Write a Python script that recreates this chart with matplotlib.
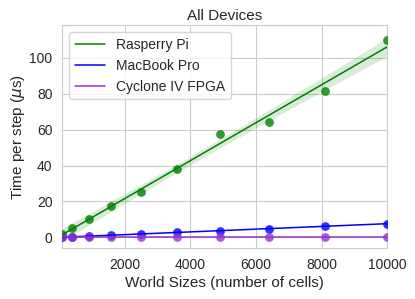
import numpy as np
import matplotlib
matplotlib.use('Agg')
import matplotlib.pyplot as plt
import seaborn as sns

# World sizes (cells) and time per step in microseconds
world_sizes = [100, 400, 900, 1600, 2500, 3600, 4900, 6400, 8100, 10000]
rasperry_pi = [2.0, 5.2, 10.0, 17.2, 25.3, 37.8, 57.8, 64.5, 81.3, 110.0]
macbook_pro = [0.1, 0.3, 0.6, 1.2, 2.0, 2.8, 3.8, 4.9, 6.3, 7.5]
cyclone_fpga = [0.0, 0.0, 0.0, 0.0, 0.0, 0.0, 0.0, 0.0, 0.0, 0.0]

series = [
    ('Rasperry Pi', rasperry_pi, 'green'),
    ('MacBook Pro', macbook_pro, 'blue'),
    ('Cyclone IV FPGA', cyclone_fpga, 'darkorchid'),
]

sns.set_style('whitegrid')
plt.rcParams['font.family'] = ['Liberation Sans', 'DejaVu Sans']

fig, ax = plt.subplots(figsize=(4.15, 2.99), dpi=100)

x = np.array(world_sizes, dtype=float)
xs = np.linspace(x.min(), x.max(), 100)
for label, vals, color in series:
    y = np.array(vals, dtype=float)
    # ordinary least squares fit with 95% confidence band
    slope, intercept = np.polyfit(x, y, 1)
    fit = slope * xs + intercept
    resid = y - (slope * x + intercept)
    n = len(x)
    s = np.sqrt(np.sum(resid ** 2) / (n - 2))
    se = s * np.sqrt(1 / n + (xs - x.mean()) ** 2 / np.sum((x - x.mean()) ** 2))
    band = 2.306 * se
    ax.scatter(x, y, color=color, alpha=0.8, s=40, linewidths=0, zorder=3)
    ax.plot(xs, fit, color=color, lw=1.1, label=label, zorder=4)
    ax.fill_between(xs, fit - band, fit + band, color=color, alpha=0.15, lw=0)

ax.set_xlim(100, 10000)
ax.set_ylim(-6, 118)
ax.set_xticks([2000, 4000, 6000, 8000, 10000])
ax.set_yticks([0, 20, 40, 60, 80, 100])
ax.tick_params(labelsize=10, colors='.15')
ax.set_title('All Devices', fontsize=11, color='.15', pad=4)
ax.set_xlabel('World Sizes (number of cells)', fontsize=11, color='.15', labelpad=3)
ax.set_ylabel(r'Time per step ($\mu$s)', fontsize=11, color='.15', labelpad=2)
ax.legend(loc='upper left', fontsize=10, handlelength=2.2)

fig.subplots_adjust(left=0.15, right=0.933, top=0.915, bottom=0.17)
fig.savefig('out.png', dpi=100)
